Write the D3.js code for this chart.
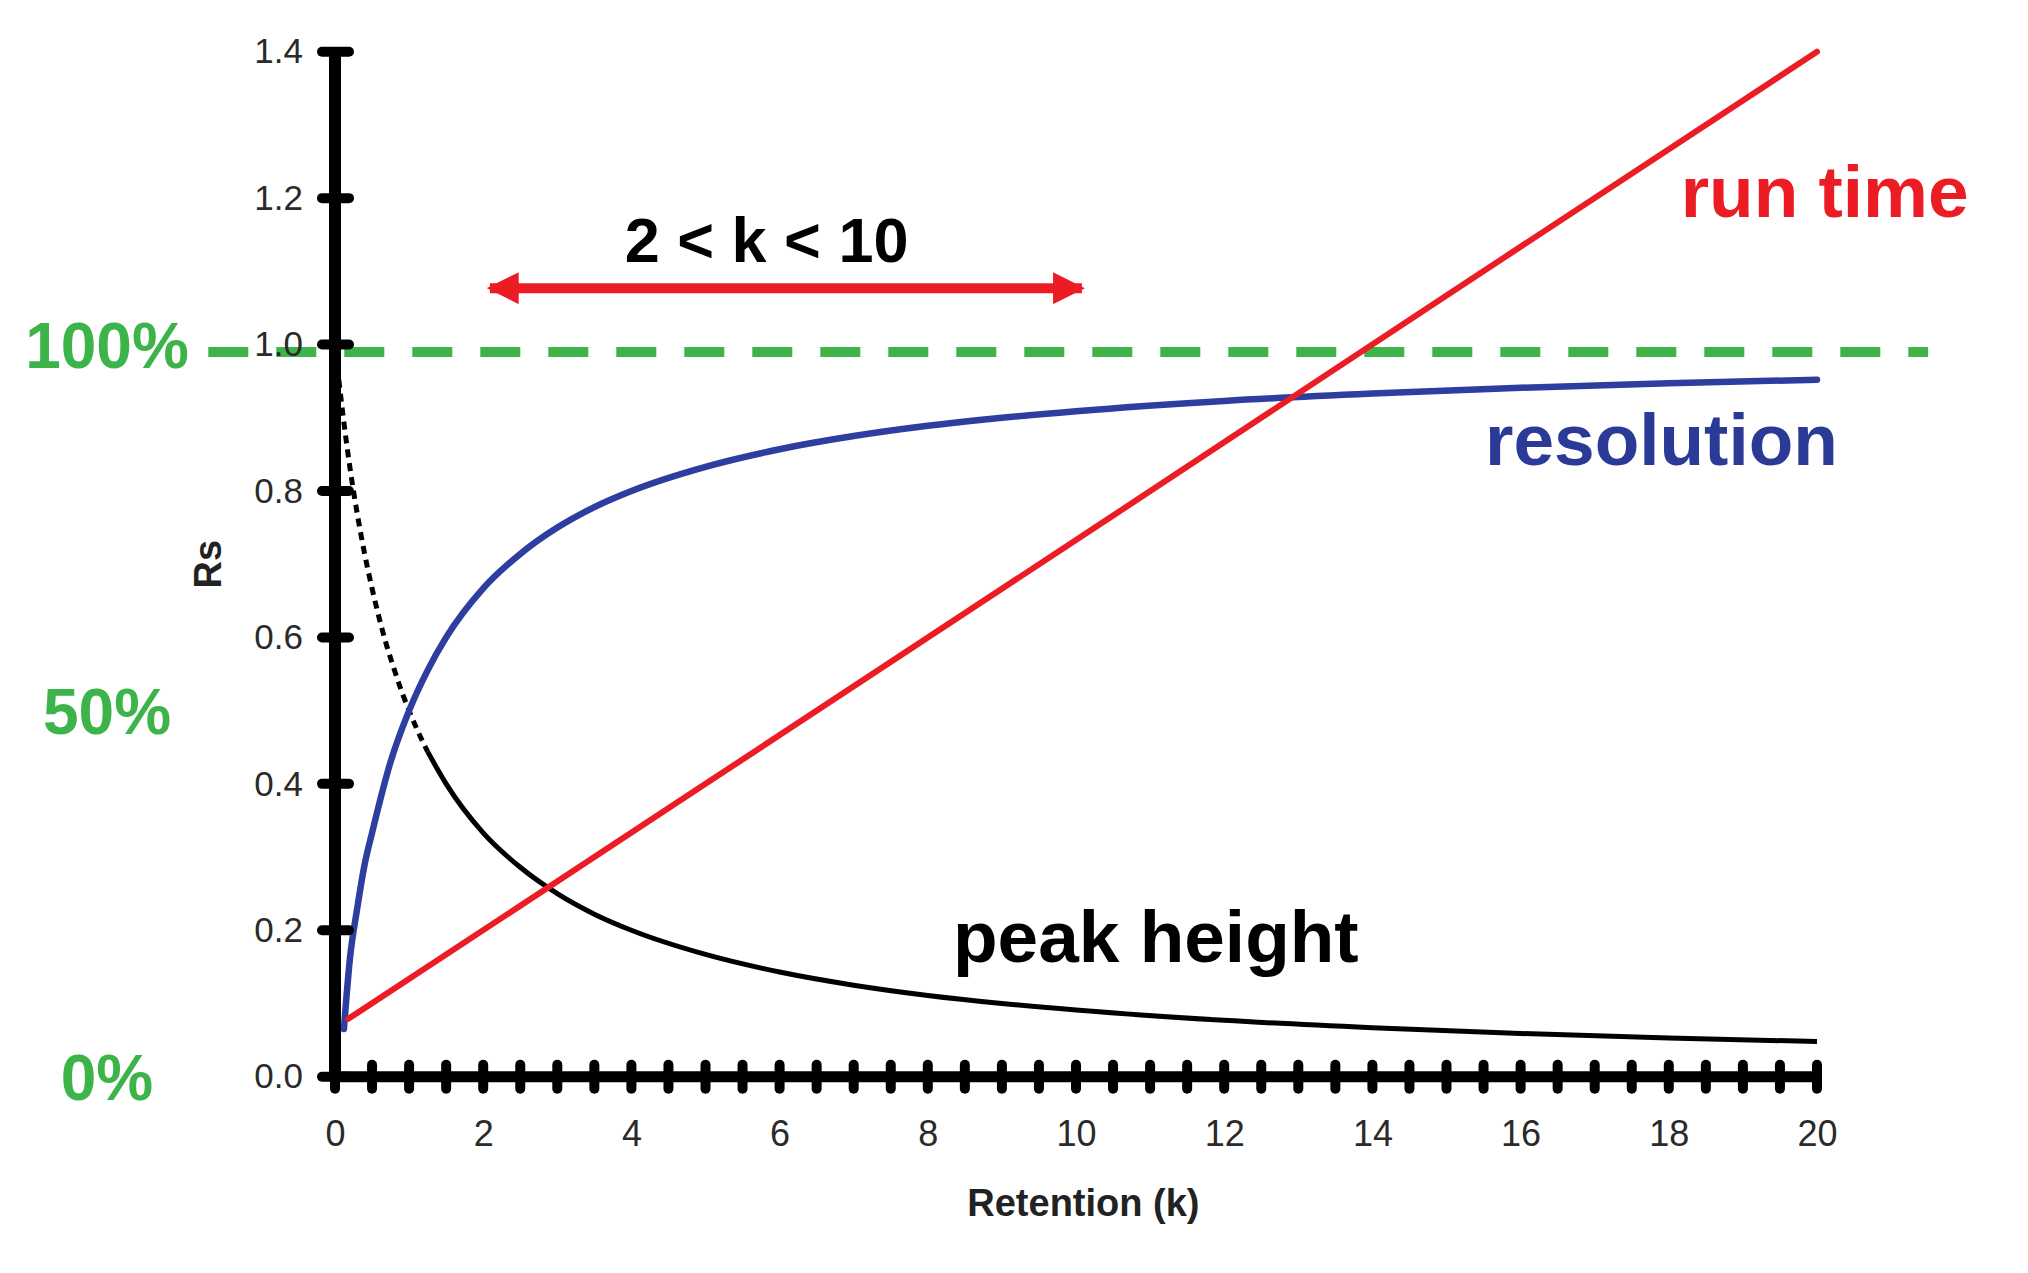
<!DOCTYPE html>
<html>
<head>
<meta charset="utf-8">
<script src="https://cdn.jsdelivr.net/npm/d3@7"></script>
<style>
  html, body { margin: 0; padding: 0; background: #fff; }
  svg { display: block; }
  text { font-family: "Liberation Sans", Arial, Helvetica, sans-serif; }
</style>
</head>
<body>
<svg id="chart" width="2028" height="1273"></svg>
<script>
// ---------- data ----------
const yTicks = [0, 0.2, 0.4, 0.6, 0.8, 1.0, 1.2, 1.4];
const xLabelTicks = [0, 2, 4, 6, 8, 10, 12, 14, 16, 18, 20];
const xMinorTicks = d3.range(0, 20.001, 0.5);

const runTimeK   = [0.18, 5, 10, 15, 20];
const runTimeVal = [0.079, 0.4, 0.733, 1.067, 1.4];

const resolutionK   = [0.12, 0.2, 0.3, 0.4, 0.5, 0.75, 1, 1.25, 1.5, 2, 2.5, 3, 3.5, 4, 5, 6, 7, 8, 9, 10, 12, 14, 16, 18, 20];
const resolutionVal = [0.065, 0.16, 0.23, 0.29, 0.333, 0.43, 0.5, 0.555, 0.6, 0.667, 0.714, 0.75, 0.778, 0.8, 0.833, 0.857, 0.875, 0.889, 0.9, 0.909, 0.923, 0.933, 0.941, 0.947, 0.952];

const peakDottedK   = [0.01, 0.1, 0.2, 0.3, 0.4, 0.5, 0.6, 0.7, 0.8, 0.9, 1.0, 1.1, 1.25];
const peakDottedVal = [0.99, 0.91, 0.833, 0.769, 0.714, 0.667, 0.625, 0.588, 0.556, 0.526, 0.5, 0.476, 0.444];
const peakSolidK    = [1.25, 1.5, 2, 2.5, 3, 3.5, 4, 5, 6, 7, 8, 9, 10, 12, 14, 16, 18, 20];
const peakSolidVal  = [0.444, 0.4, 0.333, 0.286, 0.25, 0.222, 0.2, 0.167, 0.143, 0.125, 0.111, 0.1, 0.091, 0.077, 0.067, 0.059, 0.053, 0.048];

const referenceLevel = 0.99;           // green dashed 100% line
const referenceSpan  = [-1.71, 21.5];  // k extent of dashed line
const rangeArrow     = [2.05, 10.12];  // "2 < k < 10"
const rangeArrowLevel = 1.077;

const percentLabels = [{text: "100%", v: 1.0}, {text: "50%", v: 0.5}, {text: "0%", v: 0.0}];

const seriesLabels = [
  {text: "run time",    k: 18.16, v: 1.174, color: "#ec1c24"},
  {text: "resolution",  k: 15.52, v: 0.836, color: "#2b3a96"},
  {text: "peak height", k: 8.34,  v: 0.157, color: "#000000"}
];
const rangeLabel = {text: "2 < k < 10", k: 3.91, v: 1.113};

// ---------- scales ----------
const svg = d3.select("#chart");
const x = d3.scaleLinear().domain([0, 20]).range([335, 1817]);
const y = d3.scaleLinear().domain([0, 1.4]).range([1076.7, 51.7]);

const RED = "#ec1c24", BLUE = "#2e3da0", GREEN = "#3cb44a";

// ---------- green reference dashed line ----------
svg.append("line")
  .attr("x1", x(referenceSpan[0])).attr("x2", x(referenceSpan[1]))
  .attr("y1", y(referenceLevel)).attr("y2", y(referenceLevel))
  .attr("stroke", GREEN).attr("stroke-width", 10)
  .attr("stroke-dasharray", "40,28");

// ---------- series (under axes) ----------
const lineGen = d3.line().x(d => x(d[0])).y(d => y(d[1])).curve(d3.curveMonotoneX);
const zip = (a, b) => a.map((k, i) => [k, b[i]]);

svg.append("path").datum(zip(peakDottedK, peakDottedVal))
  .attr("d", lineGen).attr("fill", "none").attr("stroke", "#000")
  .attr("stroke-width", 5).attr("stroke-dasharray", "8,6");
svg.append("path").datum(zip(peakSolidK, peakSolidVal))
  .attr("d", lineGen).attr("fill", "none").attr("stroke", "#000")
  .attr("stroke-width", 5);

svg.append("path").datum(zip(resolutionK, resolutionVal))
  .attr("d", lineGen).attr("fill", "none").attr("stroke", BLUE)
  .attr("stroke-width", 6.5).attr("stroke-linecap", "round");

svg.append("path").datum(zip(runTimeK, runTimeVal))
  .attr("d", d3.line().x(d => x(d[0])).y(d => y(d[1])))
  .attr("fill", "none").attr("stroke", RED)
  .attr("stroke-width", 6).attr("stroke-linecap", "round");

// ---------- axes ----------
const yAxis = d3.axisLeft(y).tickValues(yTicks).tickFormat(d3.format(".1f")).tickSize(0).tickPadding(32);
const gy = svg.append("g").attr("transform", `translate(${x(0)},0)`).call(yAxis);
gy.select(".domain").remove();
gy.selectAll("text").attr("font-size", 35).attr("fill", "#2a2a2a");

const xAxis = d3.axisBottom(x).tickValues(xLabelTicks).tickFormat(d3.format("d")).tickSize(0).tickPadding(44);
const gx = svg.append("g").attr("transform", `translate(0,${y(0)})`).call(xAxis);
gx.select(".domain").remove();
gx.selectAll("text").attr("font-size", 36).attr("fill", "#2a2a2a");

svg.append("line")
  .attr("x1", x(0)).attr("x2", x(0)).attr("y1", y(1.4)).attr("y2", y(0))
  .attr("stroke", "#000").attr("stroke-width", 12);
svg.append("line")
  .attr("x1", x(0)).attr("x2", x(20)).attr("y1", y(0)).attr("y2", y(0))
  .attr("stroke", "#000").attr("stroke-width", 11);

svg.append("g").selectAll("line").data(yTicks).join("line")
  .attr("x1", x(0) - 13).attr("x2", x(0) + 14)
  .attr("y1", d => y(d)).attr("y2", d => y(d))
  .attr("stroke", "#000").attr("stroke-width", 10).attr("stroke-linecap", "round");

svg.append("g").selectAll("line").data(xMinorTicks).join("line")
  .attr("x1", d => x(d)).attr("x2", d => x(d))
  .attr("y1", y(0) - 12).attr("y2", y(0) + 12)
  .attr("stroke", "#000").attr("stroke-width", 10).attr("stroke-linecap", "round");

// axis titles
svg.append("text")
  .attr("x", x(10.1)).attr("y", 1216)
  .attr("text-anchor", "middle").attr("font-size", 38).attr("font-weight", "bold").attr("fill", "#222")
  .text("Retention (k)");
svg.append("text")
  .attr("transform", `translate(221,${y(0.7)}) rotate(-90)`)
  .attr("text-anchor", "middle").attr("font-size", 38).attr("font-weight", "bold").attr("fill", "#222")
  .text("Rs");

// percent labels
svg.append("g").selectAll("text").data(percentLabels).join("text")
  .attr("x", 107).attr("y", d => y(d.v))
  .attr("dy", "0.36em")
  .attr("text-anchor", "middle").attr("font-size", 64).attr("font-weight", "bold").attr("fill", GREEN)
  .text(d => d.text);

// ---------- range arrow ----------
const defs = svg.append("defs");
defs.append("marker").attr("id", "ah").attr("viewBox", "0 0 10 10")
  .attr("refX", 9).attr("refY", 5).attr("markerWidth", 3.2).attr("markerHeight", 3.2)
  .attr("markerUnits", "strokeWidth").attr("orient", "auto-start-reverse")
  .append("path").attr("d", "M0,0 L10,5 L0,10 Z").attr("fill", RED);
svg.append("line")
  .attr("x1", x(rangeArrow[0]) + 3).attr("x2", x(rangeArrow[1]) - 3)
  .attr("y1", y(rangeArrowLevel)).attr("y2", y(rangeArrowLevel))
  .attr("stroke", RED).attr("stroke-width", 10)
  .attr("marker-start", "url(#ah)").attr("marker-end", "url(#ah)");

svg.append("text")
  .attr("x", x(rangeLabel.k)).attr("y", y(rangeLabel.v))
  .attr("font-size", 63).attr("font-weight", "bold").attr("fill", "#000")
  .text(rangeLabel.text);

// ---------- series labels ----------
svg.append("g").selectAll("text").data(seriesLabels).join("text")
  .attr("x", d => x(d.k)).attr("y", d => y(d.v))
  .attr("font-size", 73).attr("font-weight", "bold").attr("fill", d => d.color)
  .text(d => d.text);
</script>
</body>
</html>
